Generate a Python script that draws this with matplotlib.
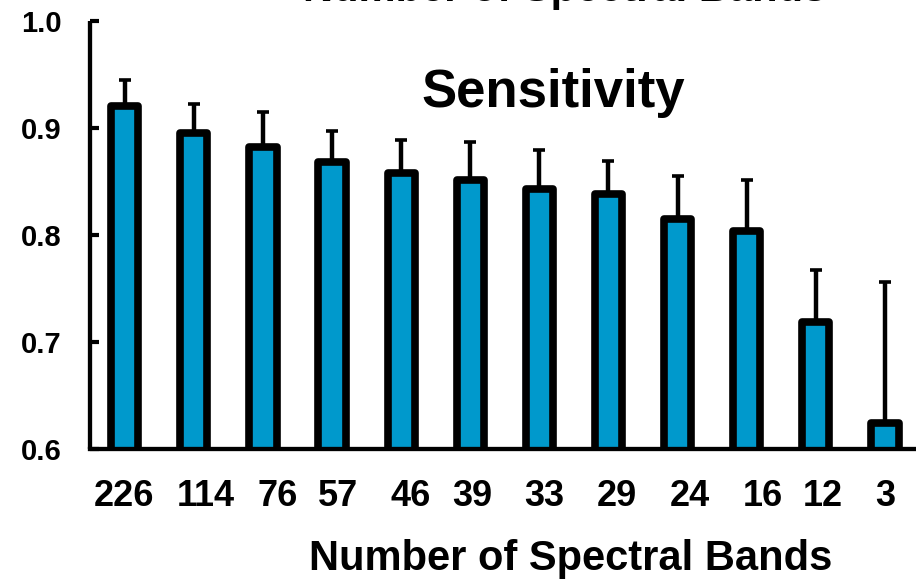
import numpy as np
import matplotlib
matplotlib.use("Agg")
import matplotlib.pyplot as plt

# Donnees
bands = ["226", "114", "76", "57", "46", "39", "33", "29", "24", "16", "12", "3"]
sensitivity = [0.921, 0.895, 0.882, 0.868, 0.858, 0.851, 0.843, 0.838, 0.815, 0.804, 0.719, 0.624]
err_upper = [0.024, 0.027, 0.033, 0.029, 0.031, 0.036, 0.036, 0.031, 0.040, 0.047, 0.048, 0.132]

# decalage horizontal des etiquettes (en pixels), comme dans l'original
label_shift = [-1, 12, 15, 6, 9, 2, 5, 8, 12, 16, 7, 0]

plt.rcParams['font.family'] = ['Liberation Sans', 'DejaVu Sans']
plt.rcParams['font.weight'] = 'bold'

fig = plt.figure(figsize=(9.16, 5.79), dpi=100)
ax = fig.add_axes([89.5 / 916, 1 - 449 / 579, 1 - 89.5 / 916, (449 - 21) / 579])

x = np.arange(len(bands))
ax.errorbar(x, sensitivity, yerr=[np.zeros(len(bands)), err_upper], fmt='none',
            ecolor='black', elinewidth=3.2, capsize=4.3, capthick=2.6, zorder=1)
ax.bar(x, sensitivity, width=0.395, color='#0099CC', edgecolor='black',
       linewidth=5.5, joinstyle='round', zorder=2)

ax.set_ylim(0.6, 1.0)
ax.set_xlim(-0.51, 11.45)
ax.set_yticks([0.6, 0.7, 0.8, 0.9, 1.0])
ax.set_yticklabels(["0.6", "0.7", "0.8", "0.9", "1.0"], fontsize=21, fontweight='bold')
ax.set_xticks(x)
ax.set_xticklabels([])

# etiquettes de l'axe x, legerement decalees comme dans la figure d'origine
for i, (lab, dx) in enumerate(zip(bands, label_shift)):
    ax.annotate(lab, xy=(x[i], 0), xycoords=('data', 'axes fraction'),
                xytext=(dx * 0.72, -21.5), textcoords='offset points',
                ha='center', va='top', fontsize=26, fontweight='bold')

ax.tick_params(axis='y', direction='in', length=6.5, width=3, pad=20)
ax.tick_params(axis='x', length=0)

for side in ['top', 'right']:
    ax.spines[side].set_visible(False)
for side in ['left', 'bottom']:
    ax.spines[side].set_linewidth(3.1)
ax.spines['left'].set_capstyle('butt')

ax.set_xlabel("Number of Spectral Bands", fontsize=30, fontweight='bold')
ax.xaxis.set_label_coords(0.582, -0.21)
ax.xaxis.label.set_va('top')

ax.text(0.561, 0.799, "Sensitivity", transform=ax.transAxes, fontsize=38,
        fontweight='bold', ha='center', va='baseline')

# titre coupe en haut de l'image
fig.text(565 / 916, 1 - 1.5 / 579, "Number of Spectral Bands", fontsize=30,
         fontweight='bold', ha='center', va='baseline')

fig.savefig("out.png", dpi=100)
